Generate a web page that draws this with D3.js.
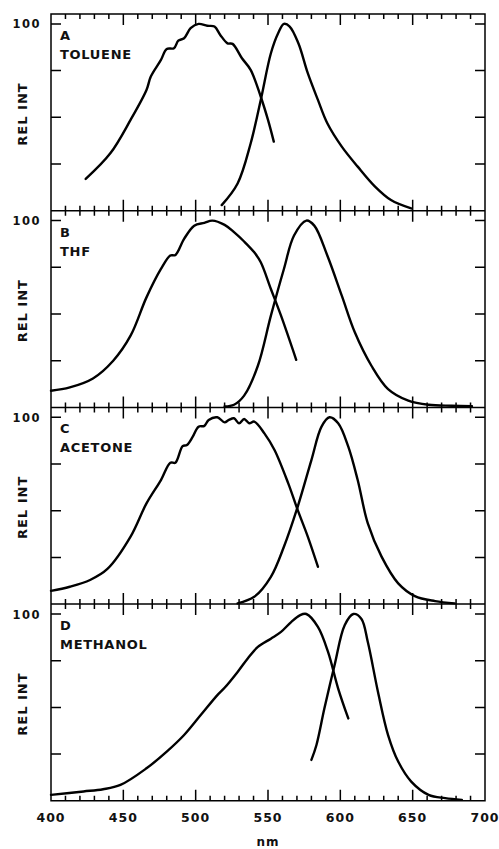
<!DOCTYPE html>
<html>
<head>
<meta charset="utf-8">
<script src="https://cdn.jsdelivr.net/npm/d3@7"></script>
<style>
body { margin: 0; background: #fff; overflow: hidden; }
svg { display: block; }
</style>
</head>
<body>
<div class="chart"></div>
<script>
const letters = ["A", "B", "C", "D"]
const solvents = ["TOLUENE", "THF", "ACETONE", "METHANOL"]
const xTicks = [400, 450, 500, 550, 600, 650, 700]
const yTicks = [25, 50, 75, 100]

// [nm, rel int], left curve = absorption, right = emission
const tolueneAbs = [[424, 17], [441, 30.7], [455, 48.6], [466, 64.6], [469, 71.8], [476, 80.7], [480, 86.6],
    [485, 87], [488, 91], [492, 92.3], [496.5, 97.7], [502, 100], [508, 99], [513, 98.6], [517, 94.1],
    [522, 89.6], [525.5, 89.3], [532, 81.6], [538, 75.4], [545, 61], [550, 48.6], [554, 37]]
const tolueneEm = [[518, 3], [529, 14.6], [538, 36], [545, 59.3], [552, 84.3], [557, 95], [561, 100],
    [565, 98.6], [571, 89.6], [577.5, 73.6], [584.5, 59.3], [591, 46.8], [601, 34.3], [612, 23.6],
    [624, 12.9], [635, 5.7], [649, 1.2]]

const thfAbs = [[400, 8.9], [413, 10.7], [429, 15.5], [443, 25], [455, 38.4], [466, 58.9], [476, 74.1],
    [482.5, 81.3], [486, 81.6], [492, 90.2], [499, 97.3], [506, 98.8], [511.5, 100], [520, 97.7],
    [526.5, 93.8], [533.5, 88.8], [540.5, 83], [545, 77.7], [552, 63.4], [559, 49.1], [569.5, 25.5]]
const thfEm = [[520, 0.5], [526.5, 1.4], [533.5, 6.3], [543, 22.3], [552, 49.1], [561, 74.1], [568, 92],
    [576.5, 100], [582, 97.3], [591, 81.3], [601, 59.8], [610, 40.2], [621.5, 22.3], [633, 9.8],
    [647, 3.6], [661, 1.4], [677, 0.9], [691, 0.7]]

const acetoneAbs = [[400, 7.1], [413, 9.3], [427, 12.9], [439, 18.8], [455, 36.1], [466, 53.9], [476, 66.4],
    [482.5, 75.7], [486, 75.7], [491, 84.6], [494, 85.2], [498, 89.6], [502, 95], [506, 95.4],
    [509, 98.6], [515, 100], [520, 97.3], [523, 98.6], [526.5, 99.5], [530, 96.8], [533.5, 99.1],
    [537, 96.8], [540.5, 97.7], [547.5, 91.4], [554.5, 82.5], [564, 64.6], [570.5, 50.4],
    [577.5, 36.1], [584.5, 20]]
const acetoneEm = [[529, 0.4], [540.5, 3.9], [552, 14.6], [561, 30.7], [570.5, 52.1], [580, 77.1],
    [587, 95], [592.5, 100], [598.5, 96.8], [605.5, 84.3], [612, 66.4], [619, 43.2], [628.5, 25.4],
    [640, 11.1], [651.5, 4.3], [665.5, 1.6], [679, 0.4]]

const methanolAbs = [[400, 3.2], [422.5, 5], [436, 6.2], [448, 8.5], [466, 17.4], [480, 26.3], [492, 35.2],
    [503.5, 45.9], [515, 56.6], [520, 60.5], [529, 69], [536, 76.2], [543, 82.4], [552, 86.8],
    [559, 90.4], [566, 95.7], [572, 99.3], [576.5, 100], [584.5, 93.1], [591.5, 79.7], [598.5, 60.1],
    [605.5, 44.1]]
const methanolEm = [[580, 21.9], [583.5, 29.9], [589, 49.5], [596, 72.6], [603, 94], [609, 100],
    [614.5, 97.5], [619, 85], [626, 58.4], [633, 35.2], [640, 21], [649, 10.3], [661, 3.2],
    [672.5, 1.4], [684, 0.5]]

const absorption = [tolueneAbs, thfAbs, acetoneAbs, methanolAbs]
const emission = [tolueneEm, thfEm, acetoneEm, methanolEm]

const W = 499, H = 849;
const X0 = 51, X1 = 485;
const Y0 = 14, panelH = 196.7;
const Y4 = Y0 + 4 * panelH;
const font = "DejaVu Sans"

const svg = d3.select(".chart").append("svg").attr("width", W).attr("height", H)

const x = d3.scaleLinear().domain([400, 700]).range([X0, X1]);
const minorTicks = d3.range(400, 701, 10)

// frame + tick marks, built as one path
const frame = d3.path()
frame.rect(X0, Y0, X1 - X0, Y4 - Y0)
for (let b = 1; b < 4; b++) {
    frame.moveTo(X0, Y0 + b * panelH)
    frame.lineTo(X1, Y0 + b * panelH)
}
for (let b = 0; b <= 4; b++) {
    const yb = Y0 + b * panelH
    minorTicks.forEach(d => {
        const len = xTicks.includes(d) ? 11 : 5
        frame.moveTo(x(d), b > 0 ? yb - len : yb)
        frame.lineTo(x(d), b < 4 ? yb + len : yb)
    })
}
for (let i = 0; i < 4; i++) {
    const y = d3.scaleLinear().domain([0, 105.3]).range([Y0 + (i + 1) * panelH, Y0 + i * panelH]);
    yTicks.forEach(d => {
        frame.moveTo(X0, y(d))
        frame.lineTo(X0 + 10, y(d))
        frame.moveTo(X1 - 10, y(d))
        frame.lineTo(X1, y(d))
    })
}
svg.append("path").attr("d", frame.toString())
    .attr("fill", "none").attr("stroke", "#000").attr("stroke-width", 1.5)

// tick labels at the very bottom
svg.append("g").selectAll("text").data(xTicks).join("text")
    .attr("x", d => x(d)).attr("y", Y4 + 21)
    .attr("text-anchor", "middle").attr("font-family", font).attr("font-weight", "bold")
    .attr("font-size", 12.5).attr("letter-spacing", 1).attr("fill", "#111")
    .text(d => d);

svg.append("text").attr("x", 268).attr("y", 846).attr("text-anchor", "middle")
    .attr("font-family", font).attr("font-weight", "bold").attr("fill", "#111")
    .attr("font-size", 12).attr("letter-spacing", 1).text("nm")

const curve = d3.line().curve(d3.curveCatmullRom.alpha(0.5))

for (let i = 0; i < 4; i++) {
    const py = Y0 + i * panelH
    const y = d3.scaleLinear().domain([0, 105.3]).range([py + panelH, py]);

    const labels = svg.append("g").attr("font-family", font).attr("font-weight", "bold").attr("fill", "#111")
    labels.append("text").attr("x", 41).attr("y", y(100) + 4.5).attr("text-anchor", "end")
        .attr("font-size", 11.5).attr("letter-spacing", 1.5).text("100")
    labels.append("text").attr("transform", 'translate(27,' + (py + 100) + ') rotate(-90)')
        .attr("text-anchor", "middle").attr("font-size", 13).attr("letter-spacing", 1).text("REL INT")
    labels.append("text").attr("x", 60).attr("y", py + 26).attr("font-size", 13).text(letters[i])
    labels.append("text").attr("x", 60).attr("y", py + 45).attr("font-size", 13)
        .attr("letter-spacing", 0.7).text(solvents[i])

    curve.x(d => x(d[0])).y(d => y(d[1]))
    svg.append("g").selectAll("path")
        .data([absorption[i], emission[i]])
        .join("path")
        .attr("d", curve)
        .attr("fill", "none")
        .attr("stroke", "#000")
        .attr("stroke-width", 2.4)
        .attr("stroke-linejoin", "round")
        .attr("stroke-linecap", "round");
}
</script>
</body>
</html>
